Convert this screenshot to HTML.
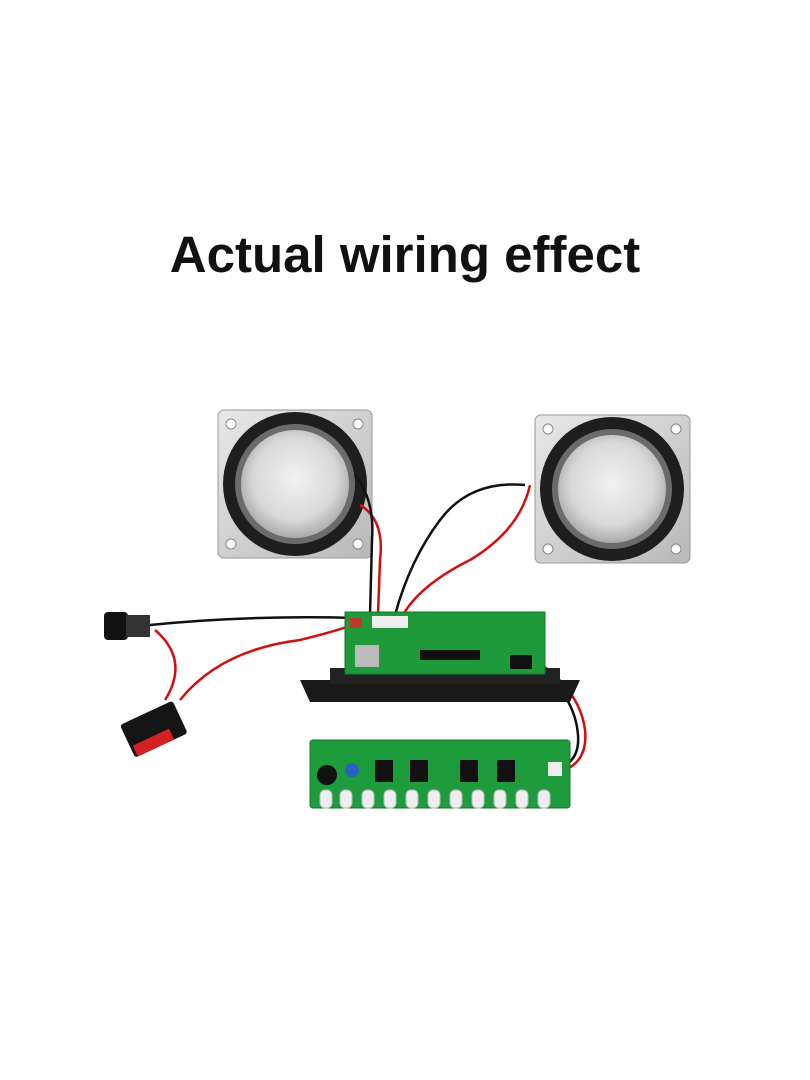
<!DOCTYPE html>
<html><head><style>
html,body{margin:0;padding:0;background:#fff;}
body{width:810px;height:1080px;position:relative;overflow:hidden;}
h1{position:absolute;top:225px;left:0;width:810px;text-align:center;margin:0;font:bold 51px "Liberation Sans",sans-serif;color:#111;}
svg{position:absolute;left:0;top:0;}
</style></head><body>
<h1>Actual wiring effect</h1>
<svg width="810" height="1080" viewBox="0 0 810 1080">
<defs>
<radialGradient id="cone" cx="50%" cy="45%" r="55%"><stop offset="0" stop-color="#f2f2f2"/><stop offset="0.7" stop-color="#d8d8d8"/><stop offset="1" stop-color="#aaa"/></radialGradient>
<linearGradient id="frame" x1="0" y1="0" x2="1" y2="1"><stop offset="0" stop-color="#e8e8e8"/><stop offset="1" stop-color="#b8b8b8"/></linearGradient>
</defs>
<rect x="218" y="410" width="154" height="148" rx="6" fill="url(#frame)" stroke="#999"/>
<circle cx="231" cy="424" r="5" fill="#fff" stroke="#888"/><circle cx="358" cy="424" r="5" fill="#fff" stroke="#888"/>
<circle cx="231" cy="544" r="5" fill="#fff" stroke="#888"/><circle cx="358" cy="544" r="5" fill="#fff" stroke="#888"/>
<circle cx="295" cy="484" r="72" fill="#1e1e1e"/>
<circle cx="295" cy="484" r="60" fill="#6b6b6b"/>
<circle cx="295" cy="484" r="54" fill="url(#cone)"/>
<rect x="535" y="415" width="155" height="148" rx="6" fill="url(#frame)" stroke="#999"/>
<circle cx="548" cy="429" r="5" fill="#fff" stroke="#888"/><circle cx="676" cy="429" r="5" fill="#fff" stroke="#888"/>
<circle cx="548" cy="549" r="5" fill="#fff" stroke="#888"/><circle cx="676" cy="549" r="5" fill="#fff" stroke="#888"/>
<circle cx="612" cy="489" r="72" fill="#1e1e1e"/>
<circle cx="612" cy="489" r="60" fill="#6b6b6b"/>
<circle cx="612" cy="489" r="54" fill="url(#cone)"/>
<g fill="none" stroke-width="2.5">
<path d="M360 505 Q385 520 380 560 L378 615" stroke="#d01010"/>
<path d="M355 475 Q375 500 372 540 L370 615" stroke="#111"/>
<path d="M525 485 Q470 480 440 520 Q410 560 395 615" stroke="#111"/>
<path d="M530 485 Q520 530 470 560 Q420 585 403 615" stroke="#d01010"/>
<path d="M150 625 Q250 615 355 618" stroke="#111"/>
<path d="M155 630 Q190 660 165 700" stroke="#d01010"/>
<path d="M180 700 Q220 650 300 640 Q340 630 352 625" stroke="#d01010"/>
<path d="M535 660 Q580 690 585 730 Q588 760 565 770" stroke="#d01010"/>
<path d="M535 665 Q575 695 578 735 Q580 760 560 768" stroke="#111"/>
</g>
<path d="M300 680 L580 680 L570 702 L310 702 Z" fill="#1a1a1a"/>
<rect x="330" y="668" width="230" height="16" fill="#222"/>
<rect x="345" y="612" width="200" height="62" fill="#1f9a3a" stroke="#157a2a"/>
<rect x="350" y="618" width="12" height="10" fill="#c0392b"/>
<rect x="372" y="616" width="36" height="12" fill="#eee"/>
<rect x="355" y="645" width="24" height="22" fill="#bbb"/>
<rect x="420" y="650" width="60" height="10" fill="#111"/>
<rect x="510" y="655" width="22" height="14" fill="#111"/>
<rect x="104" y="612" width="24" height="28" rx="4" fill="#111"/>
<rect x="126" y="615" width="24" height="22" fill="#333"/>
<g transform="rotate(-25 152 730)">
<rect x="125" y="712" width="58" height="36" rx="3" fill="#151515"/>
<rect x="128" y="736" width="40" height="12" fill="#d32020"/>
</g>
<rect x="310" y="740" width="260" height="68" rx="3" fill="#1e9b3c" stroke="#137a2a"/>
<circle cx="327" cy="775" r="10" fill="#111"/>
<rect x="375" y="760" width="18" height="22" fill="#111"/><rect x="410" y="760" width="18" height="22" fill="#111"/>
<rect x="460" y="760" width="18" height="22" fill="#111"/><rect x="497" y="760" width="18" height="22" fill="#111"/>
<circle cx="352" cy="770" r="7" fill="#2860c0"/>
<g fill="#eee" stroke="#bbb">
<rect x="320" y="790" width="12" height="18" rx="5"/><rect x="340" y="790" width="12" height="18" rx="5"/>
<rect x="362" y="790" width="12" height="18" rx="5"/><rect x="384" y="790" width="12" height="18" rx="5"/>
<rect x="406" y="790" width="12" height="18" rx="5"/><rect x="428" y="790" width="12" height="18" rx="5"/>
<rect x="450" y="790" width="12" height="18" rx="5"/><rect x="472" y="790" width="12" height="18" rx="5"/>
<rect x="494" y="790" width="12" height="18" rx="5"/><rect x="516" y="790" width="12" height="18" rx="5"/>
<rect x="538" y="790" width="12" height="18" rx="5"/>
</g>
<rect x="548" y="762" width="14" height="14" fill="#eee"/>
</svg>
</body></html>
